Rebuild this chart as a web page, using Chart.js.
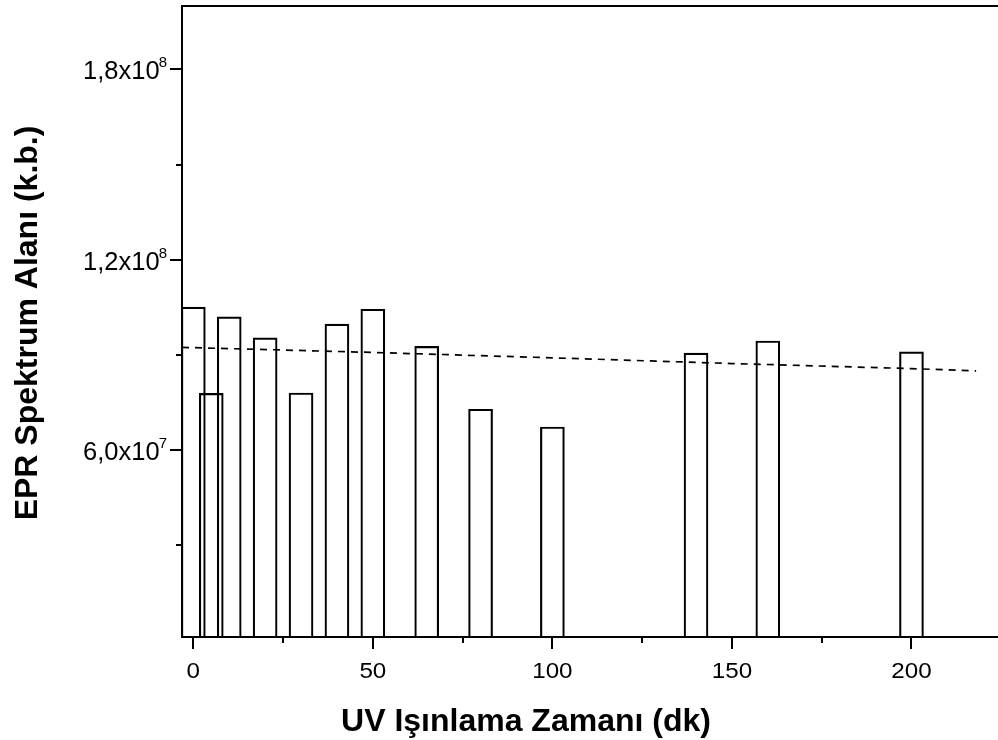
<!DOCTYPE html>
<html>
<head>
<meta charset="utf-8">
<title>EPR Spektrum Alanı</title>
<script src="https://cdn.jsdelivr.net/npm/chart.js@4/dist/chart.umd.min.js"></script>
<style>
  html, body { margin: 0; padding: 0; background: #fff; }
  #wrap { width: 998px; height: 740px; position: relative; }
</style>
</head>
<body>
<div id="wrap"><canvas id="eprChart"></canvas></div>
<script>
// UV irradiation time (dk) and EPR spectrum area (k.b.)
const times = [0, 5, 10, 20, 30, 40, 50, 65, 80, 100, 140, 160, 200];
const areas = [105.1e6, 77.9e6, 102.0e6, 95.4e6, 78.0e6, 99.7e6, 104.4e6, 92.7e6, 72.9e6, 67.3e6, 90.6e6, 94.4e6, 91.0e6];

// dashed trend line
const fitTimes = [-3.15, 50, 100, 150, 200, 218];
const fitAreas = [92.4e6, 90.8e6, 89.1e6, 87.3e6, 85.7e6, 85.0e6];

// axis ticks
const xMajorTicks = [0, 50, 100, 150, 200];
const xMinorTicks = [25, 75, 125, 175];
const yMajorTicks = [6e7, 1.2e8, 1.8e8];
const yMinorTicks = [3e7, 9e7, 1.5e8];
const yTickMantissa = ['6,0x10', '1,2x10', '1,8x10'];
const yTickExponent = ['7', '8', '8'];

const xTitle = 'UV Işınlama Zamanı (dk)';
const yTitle = 'EPR Spektrum Alanı (k.b.)';

const FONT = '"Liberation Sans", Arial, Helvetica, sans-serif';

// the original labels look a bit wider than plain Arial, so stretch them a little
function stretchedText(ctx, text, x, y, size, align, sx) {
    ctx.save();
    ctx.font = `normal ${size}px ${FONT}`;
    ctx.textAlign = align;
    ctx.textBaseline = 'alphabetic';
    ctx.translate(x, y);
    ctx.scale(sx, 1);
    ctx.fillText(text, 0, 0);
    ctx.restore();
}

// Origin style axes: outward major/minor ticks, superscript labels, top frame line
const axesDecor = {
    id: 'axesDecor',
    afterDraw(chart) {
        const { ctx, chartArea: a, scales: { x, y } } = chart;
        ctx.save();
        ctx.strokeStyle = '#000';
        ctx.fillStyle = '#000';
        ctx.lineWidth = 2;

        ctx.beginPath();
        ctx.moveTo(a.left - 1, a.top);
        ctx.lineTo(a.right, a.top);
        ctx.stroke();

        ctx.beginPath();
        xMajorTicks.forEach(v => {
            const px = Math.round(x.getPixelForValue(v));
            ctx.moveTo(px, a.bottom);
            ctx.lineTo(px, a.bottom + 12);
        });
        xMinorTicks.forEach(v => {
            const px = Math.round(x.getPixelForValue(v));
            ctx.moveTo(px, a.bottom);
            ctx.lineTo(px, a.bottom + 6);
        });
        yMajorTicks.forEach(v => {
            const py = Math.round(y.getPixelForValue(v));
            ctx.moveTo(a.left, py);
            ctx.lineTo(a.left - 12, py);
        });
        yMinorTicks.forEach(v => {
            const py = Math.round(y.getPixelForValue(v));
            ctx.moveTo(a.left, py);
            ctx.lineTo(a.left - 6, py);
        });
        ctx.stroke();

        xMajorTicks.forEach(v => {
            stretchedText(ctx, String(v), x.getPixelForValue(v), a.bottom + 41, 22, 'center', 1.1);
        });

        yMajorTicks.forEach((v, i) => {
            const py = y.getPixelForValue(v);
            const right = a.left - 15;
            ctx.font = `normal 15px ${FONT}`;
            const supW = ctx.measureText(yTickExponent[i]).width;
            stretchedText(ctx, yTickExponent[i], right, py - 2, 15, 'right', 1);
            stretchedText(ctx, yTickMantissa[i], right - supW + 1, py + 10, 25, 'right', 1.02);
        });

        ctx.font = `bold 32px ${FONT}`;
        ctx.textAlign = 'center';
        ctx.textBaseline = 'alphabetic';
        ctx.fillText(xTitle, 526, 731);

        ctx.translate(37, 323);
        ctx.rotate(-Math.PI / 2);
        ctx.fillText(yTitle, 0, 0);
        ctx.restore();
    }
};

function initChart() {
    const ctx = document.getElementById('eprChart').getContext('2d');

    new Chart(ctx, {
        type: 'bar',
        data: {
            datasets: [{
                type: 'line',
                data: fitTimes.map((t, i) => ({ x: t, y: fitAreas[i] })),
                borderColor: '#000',
                borderWidth: 1.7,
                borderDash: [7, 6],
                pointRadius: 0,
                fill: false,
                tension: 0,
                order: 1
            }, {
                type: 'bar',
                data: times.map((t, i) => ({ x: t, y: areas[i] })),
                backgroundColor: 'rgba(0,0,0,0)',
                borderColor: '#000',
                borderWidth: 1.5,
                barThickness: 24,
                clip: 0,
                order: 2
            }]
        },
        options: {
            responsive: true,
            maintainAspectRatio: false,
            animation: false,
            layout: { padding: { top: 6, right: 0, bottom: 0, left: 0 } },
            plugins: {
                legend: { display: false },
                tooltip: { enabled: false }
            },
            scales: {
                x: {
                    type: 'linear',
                    min: -3.15,
                    max: 224.1,
                    offset: false,
                    grid: { display: true, drawOnChartArea: false, drawTicks: false },
                    border: { display: true, color: '#000', width: 2 },
                    ticks: { display: false },
                    afterFit: scale => { scale.height = 103; }
                },
                y: {
                    type: 'linear',
                    min: 1.1e6,
                    max: 2.0e8,
                    grid: { display: true, drawOnChartArea: false, drawTicks: false },
                    border: { display: true, color: '#000', width: 2 },
                    ticks: { display: false },
                    afterFit: scale => { scale.width = 182; }
                }
            }
        },
        plugins: [axesDecor]
    });
}

document.addEventListener('DOMContentLoaded', initChart);
</script>
</body>
</html>
